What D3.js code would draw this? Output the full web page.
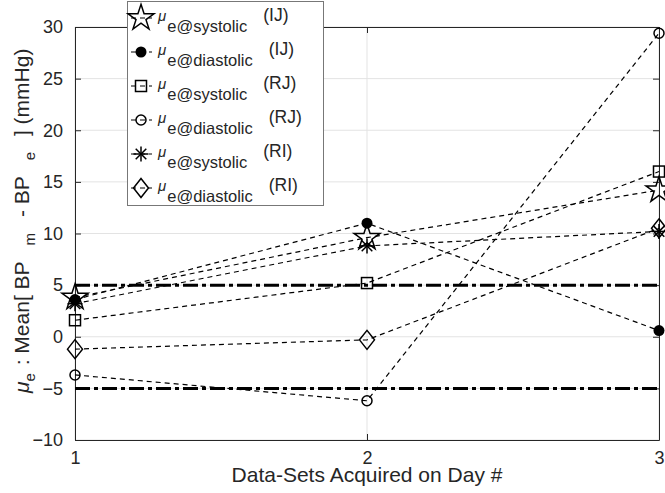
<!DOCTYPE html>
<html>
<head>
<meta charset="utf-8">
<script src="https://cdn.jsdelivr.net/npm/d3@7"></script>
<style>
  body { margin: 0; background: #fff; }
  text { font-family: "Liberation Sans", Arial, Helvetica, sans-serif; fill: #262626; }
</style>
</head>
<body>
<div id="chart"></div>
<script>
// days and mean error values (mmHg)
var days = [1, 2, 3];
var ijSystolic  = [3.8, 9.6, 14.2];
var ijDiastolic = [3.6, 11.0, 0.6];
var rjSystolic  = [1.6, 5.2, 16.0];
var rjDiastolic = [-3.7, -6.2, 29.4];
var riSystolic  = [3.2, 8.8, 10.2];
var riDiastolic = [-1.2, -0.3, 10.5];
var thresholds = [5, -5];
var xTicks = [1, 2, 3];
var yTicks = [-10, -5, 0, 5, 10, 15, 20, 25, 30];

var seriesNames = ["e@systolic", "e@diastolic", "e@systolic", "e@diastolic", "e@systolic", "e@diastolic"];
var seriesTags = ["(IJ)", "(IJ)", "(RJ)", "(RJ)", "(RI)", "(RI)"];
var seriesMarkers = ["star", "dot", "square", "circle", "asterisk", "diamond"];
var seriesValues = [ijSystolic, ijDiastolic, rjSystolic, rjDiastolic, riSystolic, riDiastolic];

//=================== LAYOUT ====================================
var svgWidth = 665, svgHeight = 493;
var plotLeft = 75, plotRight = 659, plotTop = 27, plotBottom = 440;
var axisColour = "#262626";

var svg = d3.select("#chart")
    .append("svg")
    .attr("width", svgWidth)
    .attr("height", svgHeight);

var xScale = d3.scaleLinear().domain([1, 3]).range([plotLeft, plotRight]);
var yScale = d3.scaleLinear().domain([-10, 30]).range([plotBottom, plotTop]);

// grid
svg.append("g").selectAll("line")
    .data(yTicks).enter().append("line")
    .attr("x1", plotLeft).attr("x2", plotRight)
    .attr("y1", function (d) { return yScale(d); })
    .attr("y2", function (d) { return yScale(d); })
    .style("stroke", "#e3e3e3").style("stroke-width", 1);

svg.append("g").selectAll("line")
    .data(xTicks).enter().append("line")
    .attr("y1", plotTop).attr("y2", plotBottom)
    .attr("x1", function (d) { return xScale(d); })
    .attr("x2", function (d) { return xScale(d); })
    .style("stroke", "#e3e3e3").style("stroke-width", 1);

// axes (ticks inside, like matlab)
var yAxis = d3.axisLeft(yScale).tickValues(yTicks).tickSizeInner(-6).tickSizeOuter(0).tickPadding(12);
var xAxis = d3.axisBottom(xScale).tickValues(xTicks).tickFormat(d3.format("d"))
    .tickSizeInner(-6).tickSizeOuter(0).tickPadding(11);

svg.append("g").attr("transform", "translate(" + plotLeft + ",0)").call(yAxis);
svg.append("g").attr("transform", "translate(0," + plotBottom + ")").call(xAxis);
svg.append("g").attr("transform", "translate(" + plotRight + ",0)")
    .call(d3.axisRight(yScale).tickValues(yTicks).tickSizeInner(-6).tickSizeOuter(0).tickFormat(""));
svg.append("g").attr("transform", "translate(0," + plotTop + ")")
    .call(d3.axisTop(xScale).tickValues(xTicks).tickSizeInner(-6).tickSizeOuter(0).tickFormat(""));

svg.selectAll(".domain").style("stroke", axisColour).style("stroke-width", 1);
svg.selectAll(".tick line").style("stroke", axisColour);
svg.selectAll(".tick text").style("font-size", "18px").style("fill", axisColour)
    .style("font-family", "'Liberation Sans', Arial, sans-serif");

// threshold lines
svg.append("g").selectAll("line")
    .data(thresholds).enter().append("line")
    .attr("x1", xScale(1)).attr("x2", xScale(3))
    .attr("y1", function (d) { return yScale(d); })
    .attr("y2", function (d) { return yScale(d); })
    .style("stroke", "#000").style("stroke-width", 3)
    .style("stroke-dasharray", "15,4,4,4");

// markers
var starPath = d3.symbol().type(d3.symbolStar).size(210)();
function drawMarker(g, type, x, y) {
    if (type == "star") {
        g.append("path").attr("d", starPath)
            .attr("transform", "translate(" + x + "," + y + ")")
            .style("fill", "none").style("stroke", "#000").style("stroke-width", 1.5);
    } else if (type == "dot") {
        g.append("circle").attr("cx", x).attr("cy", y).attr("r", 5.5).style("fill", "#000");
    } else if (type == "square") {
        g.append("rect").attr("x", x - 5.5).attr("y", y - 5.5).attr("width", 11).attr("height", 11)
            .style("fill", "none").style("stroke", "#000").style("stroke-width", 1.5);
    } else if (type == "circle") {
        g.append("circle").attr("cx", x).attr("cy", y).attr("r", 5)
            .style("fill", "none").style("stroke", "#000").style("stroke-width", 1.5);
    } else if (type == "asterisk") {
        var r = 7.5;
        [0, 45, 90, 135].forEach(function (a) {
            var rad = a * Math.PI / 180;
            g.append("line")
                .attr("x1", x - r * Math.cos(rad)).attr("y1", y - r * Math.sin(rad))
                .attr("x2", x + r * Math.cos(rad)).attr("y2", y + r * Math.sin(rad))
                .style("stroke", "#000").style("stroke-width", 1.5);
        });
    } else if (type == "diamond") {
        g.append("path")
            .attr("d", "M" + x + "," + (y - 9.5) + "L" + (x + 7.5) + "," + y + "L" + x + "," + (y + 9.5) + "L" + (x - 7.5) + "," + y + "Z")
            .style("fill", "none").style("stroke", "#000").style("stroke-width", 1.5);
    }
}

var line = d3.line()
    .x(function (d, i) { return xScale(days[i]); })
    .y(function (d) { return yScale(d); });

var plot = svg.append("g");
seriesValues.forEach(function (vals) {
    plot.append("path").attr("d", line(vals))
        .style("fill", "none").style("stroke", "#000").style("stroke-width", 1.2)
        .style("stroke-dasharray", "5,4");
});
seriesValues.forEach(function (vals, s) {
    vals.forEach(function (v, i) {
        drawMarker(plot, seriesMarkers[s], xScale(days[i]), yScale(v));
    });
});

// axis labels
svg.append("text")
    .attr("x", (plotLeft + plotRight) / 2).attr("y", 482)
    .attr("text-anchor", "middle")
    .style("font-size", "21px")
    .text("Data-Sets Acquired on Day #");

var yl = svg.append("text")
    .attr("transform", "translate(29,393) rotate(-90)")
    .style("font-size", "21px");
yl.append("tspan").style("font-style", "italic").text("\u03bc");
yl.append("tspan").attr("dy", 6).style("font-size", "15px").text("e");
yl.append("tspan").attr("dx", 2).attr("dy", -6).text(" : Mean[ BP");
yl.append("tspan").attr("dx", 16).attr("dy", 6).style("font-size", "15px").text("m");
yl.append("tspan").attr("dx", 10).attr("dy", -6).text(" - BP");
yl.append("tspan").attr("dx", 16).attr("dy", 6).style("font-size", "15px").text("e");
yl.append("tspan").attr("dx", 10).attr("dy", -6).text(" ] (mmHg)");

// legend
var legend = svg.append("g");
legend.append("rect")
    .attr("x", 127.5).attr("y", 1.5).attr("width", 196).attr("height", 204)
    .style("fill", "#fff").style("stroke", "#777").style("stroke-width", 1);

seriesNames.forEach(function (name, i) {
    var cy = 18 + 34 * i;
    legend.append("line")
        .attr("x1", 131).attr("x2", 152).attr("y1", cy).attr("y2", cy)
        .style("stroke", "#000").style("stroke-width", 1.2).style("stroke-dasharray", "5,4");
    drawMarker(legend, seriesMarkers[i], 141, cy);
    var t = legend.append("text").attr("x", 158).attr("y", cy + 3);
    t.append("tspan").style("font-style", "italic").style("font-size", "15px").text("\u03bc");
    t.append("tspan").attr("dx", 1).attr("dy", 11).style("font-size", "16.5px").text(name);
    t.append("tspan").attr("dx", 16).attr("dy", -11).style("font-size", "17.5px").text(seriesTags[i]);
});
</script>
</body>
</html>
